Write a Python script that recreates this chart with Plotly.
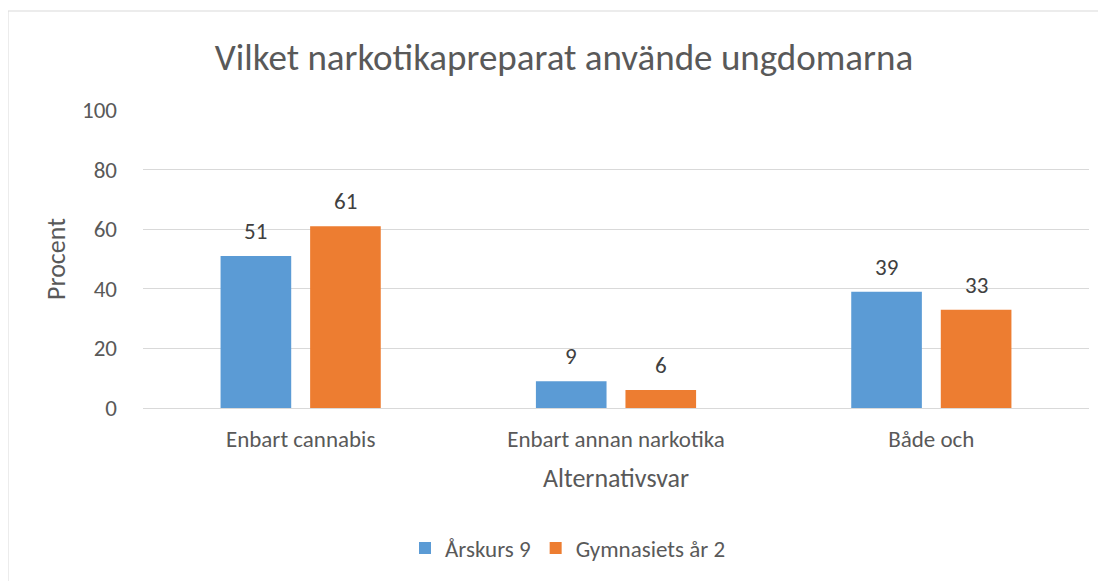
import plotly.graph_objects as go

categories = ["Enbart cannabis", "Enbart annan narkotika", "Både och"]
series_names = ["Årskurs 9", "Gymnasiets år 2"]
arskurs9 = [51, 9, 39]
gymnasiet2 = [61, 6, 33]
y_ticks = [0, 20, 40, 60, 80, 100]

# page body has an 8px margin, so the figure is 8px smaller than the window
W, H = 1098, 573
L, R, T, B = 135, 17, 102, 173
FONT = "Carlito, Calibri, Lato, sans-serif"
colors = ["#5b9bd5", "#ed7d31"]
BAR_W = 0.224
offsets = [-0.254, 0.030]

px_w = W - L - R
px_h = H - T - B
cat_px = px_w / len(categories)

fig = go.Figure()
for name, vals, col, off in [(series_names[0], arskurs9, colors[0], offsets[0]),
                             (series_names[1], gymnasiet2, colors[1], offsets[1])]:
    fig.add_trace(go.Bar(
        x=categories, y=vals, name=name, marker=dict(color=col, line=dict(width=0)),
        width=BAR_W, offset=off, hoverinfo="x+y+name",
    ))
    shift = (off + BAR_W / 2) * cat_px
    for c, v in zip(categories, vals):
        fig.add_annotation(x=c, y=v, text=str(v), showarrow=False,
                           xshift=shift, yshift=25, yanchor="middle",
                           font=dict(family=FONT, size=23, color="#404040"))

fig.update_layout(
    width=W, height=H,
    margin=dict(l=L, r=R, t=T, b=B),
    barmode="overlay",
    plot_bgcolor="white", paper_bgcolor="white",
    font=dict(family=FONT, color="#595959"),
    title=dict(text="Vilket narkotikapreparat använde ungdomarna",
               x=556 / W, xanchor="center", y=1 - 49 / H, yanchor="middle",
               font=dict(family=FONT, size=37, color="#595959")),
    xaxis=dict(showgrid=False, showline=False, ticks="", zeroline=False,
               tickfont=dict(family=FONT, size=23, color="#595959"),
               ticklabelstandoff=15,
               title=dict(text="Alternativsvar", standoff=16,
                          font=dict(family=FONT, size=26, color="#595959"))),
    yaxis=dict(range=[0, 100], tickvals=y_ticks, showgrid=True, gridcolor="#d9d9d9",
               gridwidth=1, zeroline=True, zerolinecolor="#d9d9d9", zerolinewidth=1,
               showline=False, ticks="",
               tickfont=dict(family=FONT, size=23, color="#595959"),
               ticklabelstandoff=25,
               title=dict(text="Procent", standoff=8,
                          font=dict(family=FONT, size=26, color="#595959"))),
    legend=dict(orientation="h", xref="container", yref="container",
                x=560 / W, xanchor="center", y=1 - 540 / H, yanchor="middle",
                font=dict(family=FONT, size=23, color="#595959"),
                itemwidth=30, traceorder="normal"),
)
fig.add_shape(type="rect", xref="paper", yref="paper",
              x0=(0 - L) / px_w, x1=(W + 5 - L) / px_w,
              y0=-(H + 5 - (H - B)) / px_h, y1=1 + (T - 3) / px_h,
              line=dict(color="#d9d9d9", width=1), fillcolor="rgba(0,0,0,0)", layer="below")
fig.write_html("out.html")
